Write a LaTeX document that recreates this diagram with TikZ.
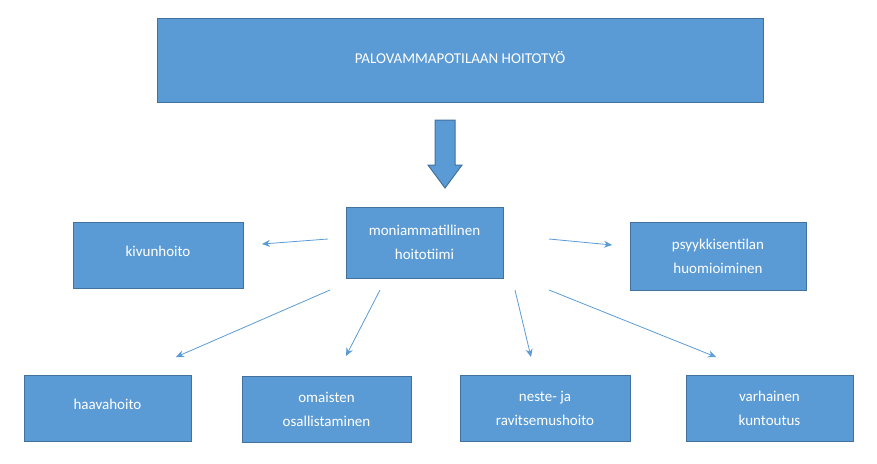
\documentclass[tikz,border=0pt]{standalone}
\usepackage{fontspec}
\setmainfont{Carlito}
\usetikzlibrary{arrows.meta}
\begin{document}
\begin{tikzpicture}[x=1pt,y=-1pt,
 box/.style={draw=boxline,fill=boxfill,line width=1pt,text=white,align=center,font=\fontsize{15}{24}\selectfont,inner sep=0pt},
 conn/.style={draw=boxfill,line width=0.8pt,-{Stealth[length=8pt,width=7pt]}}]
\definecolor{boxfill}{HTML}{5B9BD5}
\definecolor{boxline}{HTML}{41719C}
\useasboundingbox (0,0) rectangle (877,463);
\node[box,minimum width=606pt,minimum height=84pt] (top) at (460,60) {\raisebox{6pt}{PALOVAMMAPOTILAAN HOITOTYÖ}};
\node[box,minimum width=157pt,minimum height=71pt] (c) at (424.5,242.5) {moniammatillinen\\hoitotiimi};
\node[box,minimum width=170pt,minimum height=66pt] (k) at (158,255) {\raisebox{8pt}{kivunhoito}};
\node[box,minimum width=176pt,minimum height=68pt] (p) at (718,256) {psyykkisentilan\\huomioiminen};
\node[box,minimum width=167pt,minimum height=66pt] (h) at (107.5,408) {\raisebox{8pt}{haavahoito}};
\node[box,minimum width=169pt,minimum height=66pt] (o) at (326.5,409) {omaisten\\osallistaminen};
\node[box,minimum width=170pt,minimum height=66pt] (n) at (545,408) {neste- ja\\ravitsemushoito};
\node[box,minimum width=167pt,minimum height=66pt] (v) at (769.5,408) {varhainen\\kuntoutus};
\fill[boxfill,draw=boxline,line width=1pt] (435,120) -- (455,120) -- (455,165) -- (462,165) -- (445,188) -- (428,165) -- (435,165) -- cycle;
\coordinate (a1) at (328,239); \coordinate (b1) at (262,244);
\coordinate (a2) at (549,239); \coordinate (b2) at (612,245);
\coordinate (a3) at (330,290); \coordinate (b3) at (176,357);
\coordinate (a4) at (380,290); \coordinate (b4) at (346,356);
\coordinate (a5) at (515,290); \coordinate (b5) at (531,357);
\coordinate (a6) at (549,290); \coordinate (b6) at (716,357);
\foreach \i in {1,...,6} \draw[conn] (a\i) -- (b\i);
\end{tikzpicture}
\end{document}
